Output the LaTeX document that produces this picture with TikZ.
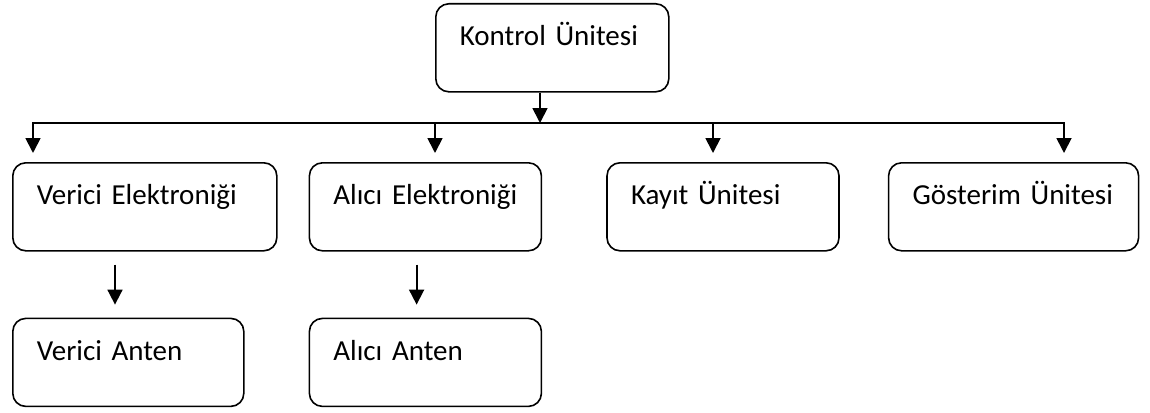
\documentclass[tikz,border=0pt]{standalone}
\usepackage{fontspec}
\setmainfont{Carlito}
\usetikzlibrary{positioning, arrows.meta}
\tikzset{
  box/.style={draw, line width=1.6pt, rounded corners=13pt, align=left, anchor=north west, font=\fontsize{29}{34}\selectfont, inner xsep=24pt, inner ysep=0pt, text height=42pt, text depth=46pt},
  arr/.style={-{Triangle[width=15pt, length=15pt]}, line width=1.8pt},
  bus/.style={line width=1.8pt, line cap=rect}
}
\begin{document}
\begin{tikzpicture}[x=1pt, y=-1pt, node distance=31pt]
  \useasboundingbox (0,0) rectangle (1150,412);
  \node[box, text width=185pt] (ku) at (435,3) {Kontrol Ünitesi};
  \node[box, text width=216pt] (ve) at (12,162) {Verici Elektroniği};
  \node[box, text width=184pt, right=31pt of ve] (ae) {Alıcı Elektroniği};
  \node[box, text width=184pt, right=64pt of ae] (ka) {Kayıt Ünitesi};
  \node[box, text width=202pt, right=48pt of ka] (gu) {Gösterim Ünitesi};
  \node[box, text width=183pt, below=66pt of ve.south west, anchor=north west] (va) {Verici Anten};
  \node[box, text width=184pt, below=66pt of ae.south west, anchor=north west] (aa) {Alıcı Anten};
  % bus below the control unit
  \coordinate (bk) at (540,123);
  \coordinate (b1) at (33,123);
  \coordinate (b2) at (435,123);
  \coordinate (b3) at (713,123);
  \coordinate (b4) at (1064,123);
  \draw[bus] (b1) -- (b4);
  \draw[arr] (bk |- ku.south) -- (bk);
  \draw[arr, shorten >=9pt] (b1) -- (b1 |- ve.north);
  \draw[arr, shorten >=9pt] (b2) -- (b2 |- ae.north);
  \draw[arr, shorten >=9pt] (b3) -- (b3 |- ka.north);
  \draw[arr, shorten >=9pt] (b4) -- (b4 |- gu.north);
  \draw[arr, shorten <=13pt, shorten >=13pt] ([xshift=103pt]ve.south west) -- ([xshift=103pt]va.north west);
  \draw[arr, shorten <=13pt, shorten >=13pt] ([xshift=108pt]ae.south west) -- ([xshift=108pt]aa.north west);
\end{tikzpicture}
\end{document}
